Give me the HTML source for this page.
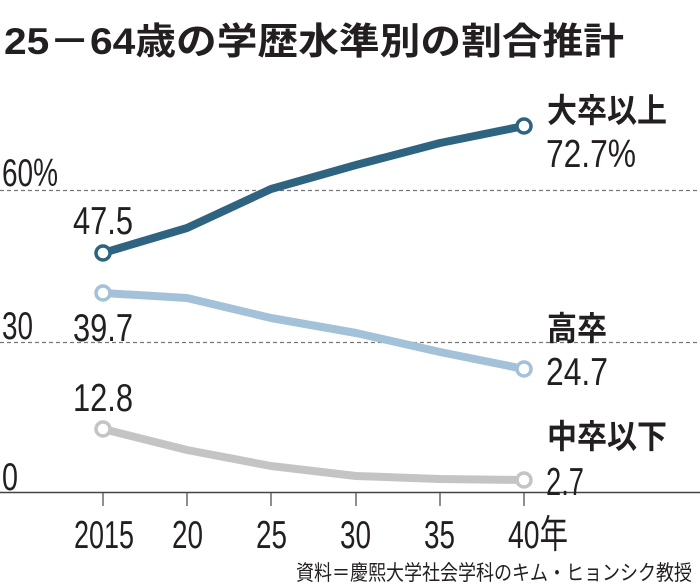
<!DOCTYPE html>
<html><head><meta charset="utf-8"><style>
html,body{margin:0;padding:0;background:#fff;}
svg{display:block;}
text{font-family:"Liberation Sans","Noto Sans CJK JP",sans-serif;fill:#231f20;}
.n{font-size:39px;}
</style></head><body>
<svg width="700" height="587" viewBox="0 0 700 587">
<text x="4" y="54" style="font-size:37px;font-weight:bold" textLength="620" lengthAdjust="spacingAndGlyphs">25－64歳の学歴水準別の割合推計</text>
<line x1="0" y1="190.5" x2="700" y2="190.5" stroke="#777" stroke-width="1.3" stroke-dasharray="4,3"/>
<line x1="0" y1="342.5" x2="700" y2="342.5" stroke="#777" stroke-width="1.3" stroke-dasharray="4,3"/>
<line x1="0" y1="492.5" x2="700" y2="492.5" stroke="#444" stroke-width="1.5"/>
<g stroke="#444" stroke-width="1.2">
<line x1="103" y1="493" x2="103" y2="506"/><line x1="187" y1="493" x2="187" y2="506"/><line x1="271" y1="493" x2="271" y2="506"/><line x1="356" y1="493" x2="356" y2="506"/><line x1="440" y1="493" x2="440" y2="506"/><line x1="524" y1="493" x2="524" y2="506"/>
</g>
<g class="n">
<text x="2" y="186" textLength="56" lengthAdjust="spacingAndGlyphs">60%</text>
<text x="2" y="339" textLength="31" lengthAdjust="spacingAndGlyphs">30</text>
<text x="2" y="490" textLength="16" lengthAdjust="spacingAndGlyphs">0</text>
<text x="73" y="234" textLength="60" lengthAdjust="spacingAndGlyphs">47.5</text>
<text x="73" y="341" textLength="60" lengthAdjust="spacingAndGlyphs">39.7</text>
<text x="73" y="411" textLength="60" lengthAdjust="spacingAndGlyphs">12.8</text>
<text x="546" y="167" textLength="90" lengthAdjust="spacingAndGlyphs">72.7%</text>
<text x="546" y="385" textLength="62" lengthAdjust="spacingAndGlyphs">24.7</text>
<text x="546" y="495" textLength="38" lengthAdjust="spacingAndGlyphs">2.7</text>
<text x="74" y="548" textLength="60" lengthAdjust="spacingAndGlyphs">2015</text>
<text x="172" y="548" textLength="31" lengthAdjust="spacingAndGlyphs">20</text>
<text x="256" y="548" textLength="31" lengthAdjust="spacingAndGlyphs">25</text>
<text x="340" y="548" textLength="31" lengthAdjust="spacingAndGlyphs">30</text>
<text x="424" y="548" textLength="31" lengthAdjust="spacingAndGlyphs">35</text>
<text x="508" y="548" textLength="60" lengthAdjust="spacingAndGlyphs">40年</text>
</g>
<g style="font-size:33px;font-weight:bold">
<text x="547" y="122" textLength="120" lengthAdjust="spacingAndGlyphs">大卒以上</text>
<text x="547" y="340" textLength="60" lengthAdjust="spacingAndGlyphs">高卒</text>
<text x="547" y="448" textLength="120" lengthAdjust="spacingAndGlyphs">中卒以下</text>
</g>
<text x="296" y="580" style="font-size:21px" textLength="396" lengthAdjust="spacingAndGlyphs">資料＝慶熙大学社会学科のキム・ヒョンシク教授</text>
<g fill="none" stroke-width="8" stroke-linejoin="round" stroke-linecap="round">
<polyline stroke="#2e6480" points="103,253 187,228 271,189 356,165 440,143 524,126"/>
<polyline stroke="#a3c1d9" points="103,293 187,298 271,318 356,333 440,352 524,369"/>
<polyline stroke="#c4c4c4" points="103,429 187,450 271,466 356,476 440,479 524,480"/>
</g>
<g fill="#fff" stroke-width="3.5">
<circle cx="103" cy="253" r="7" stroke="#2e6480"/><circle cx="524" cy="126" r="7" stroke="#2e6480"/>
<circle cx="103" cy="293" r="7" stroke="#a3c1d9"/><circle cx="524" cy="369" r="7" stroke="#a3c1d9"/>
<circle cx="103" cy="429" r="7" stroke="#c4c4c4"/><circle cx="524" cy="480" r="7" stroke="#c4c4c4"/>
</g>
</svg>
</body></html>
